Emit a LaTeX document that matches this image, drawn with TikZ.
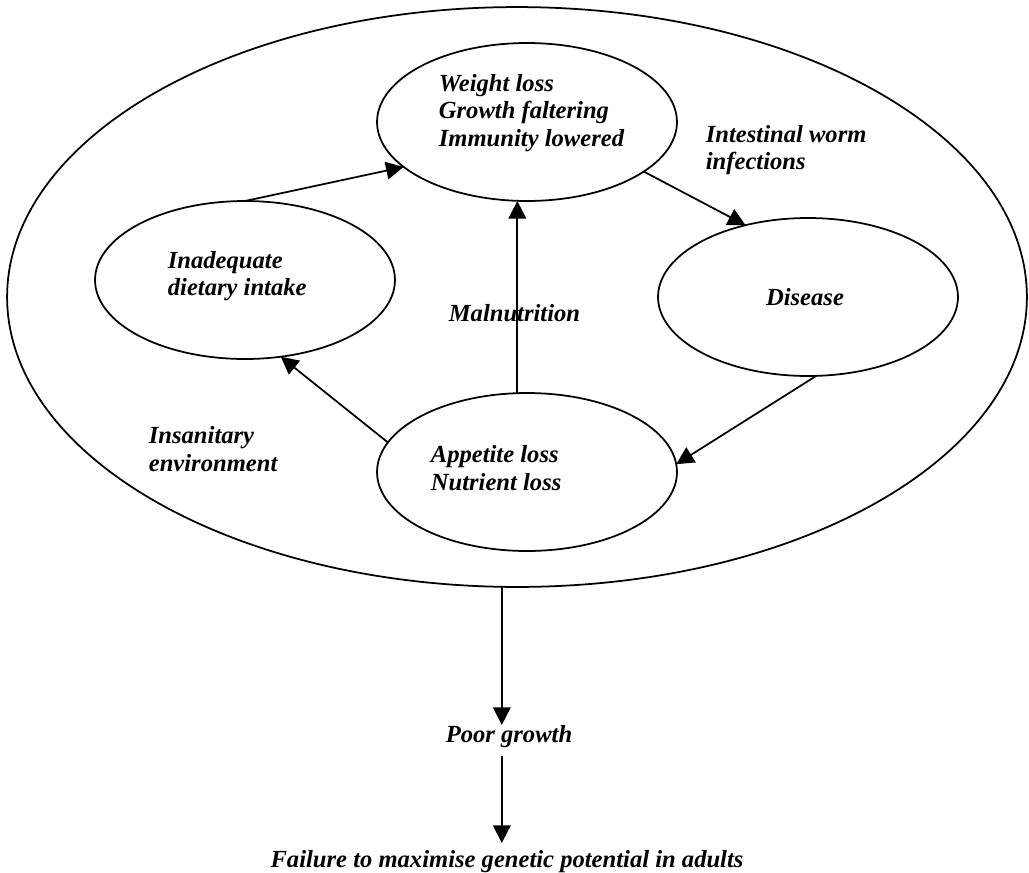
\documentclass[tikz,border=0pt]{standalone}
\usepackage{fontspec}
\setmainfont{Liberation Serif}
\usetikzlibrary{shapes.geometric,arrows.meta}

\begin{document}
\begin{tikzpicture}
      [x = .02cm, y = -.02cm, line width = 1pt,
       oval/.style = {draw, ellipse, minimum width = 6cm, minimum height = 3.16cm, inner sep = 0, outer sep = 0},
       lbl/.style = {inner sep = 0, align = left, font = \bfseries\itshape\fontsize{14}{15.6}\selectfont},
       arr/.style = {-{Triangle[length = 10pt, width = 10pt]}}]
      \useasboundingbox (0,0) rectangle (1029,873);
      \node[oval, minimum width = 20.4cm, minimum height = 11.6cm] (big) at (517,297) {};
      \foreach \n/\x/\y in {loss/527/122, diet/245/280, dis/808/297, app/527/472}
        \node[oval] (\n) at (\x,\y) {};
      \node[lbl, anchor = west] (losst) at (438,113) {Weight loss\\Growth faltering\\Immunity lowered};
      \node[lbl, anchor = west] (dietl) at (167,276) {Inadequate\\dietary intake};
      \node[lbl] (disl) at (805,297) {Disease};
      \node[lbl, anchor = west] (appl) at (430,468) {Appetite loss\\Nutrient loss};
      \node[lbl, anchor = west] (worm) at (705,150) {Intestinal worm\\infections};
      \node[lbl, anchor = west] (maln) at (448,313) {Malnutrition};
      \node[lbl, anchor = west] (insan) at (148,449) {Insanitary\\environment};
      \node[lbl] (poor) at (509,737) {Poor growth};
      \node[lbl] (fail) at (507,862) {Failure to maximise genetic potential in adults};
      \draw[arr] (diet.north) -- (loss.200);
      \draw[arr] (loss.-23) -- (dis.131);
      \draw[arr] (app.97) -- (app.97 |- loss.south);
      \draw[arr] (app.168) -- (diet.-65);
      \draw[arr] (dis.-84) -- (app.3);
      \draw[arr] (big.-93.4) -- (big.-93.4 |- poor.north);
      \draw[arr, shorten <= 4pt, shorten >= 4pt] (big.-93.4 |- poor.south) -- (big.-93.4 |- fail.north);
      \end{tikzpicture}
\end{document}
